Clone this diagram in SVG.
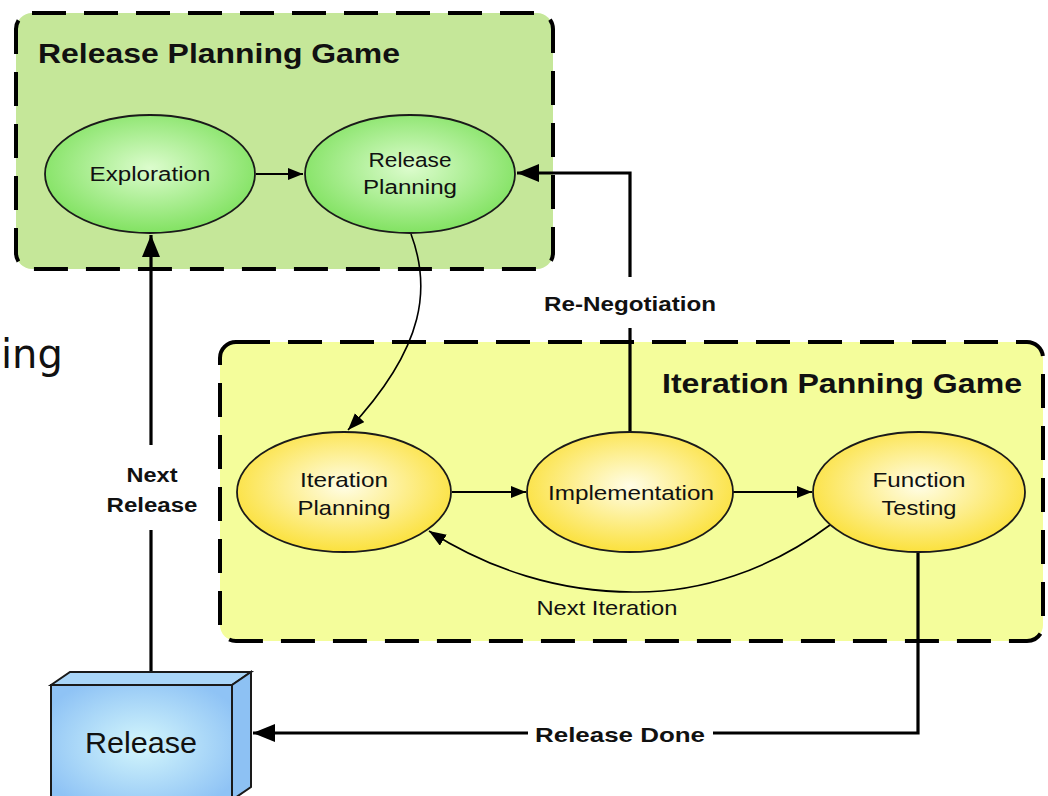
<svg xmlns="http://www.w3.org/2000/svg" width="1048" height="796" viewBox="0 0 1048 796">
<defs>
<style>
.grp{stroke:#000;stroke-width:4;stroke-dasharray:34 18}
.ell{stroke:#1a1a1a;stroke-width:1.8}
.t{font-family:"Liberation Sans",Arial,sans-serif;fill:#111;text-anchor:middle}
.b{font-weight:bold}
.thick{fill:none;stroke:#000;stroke-width:3.2}
.thin{fill:none;stroke:#000;stroke-width:2}
.curve{fill:none;stroke:#000;stroke-width:1.6}
</style>
<radialGradient id="gG" cx="50%" cy="45%" r="55%">
<stop offset="0" stop-color="#dcfccd"/>
<stop offset="1" stop-color="#82e262"/>
</radialGradient>
<radialGradient id="gY" cx="50%" cy="45%" r="55%">
<stop offset="0" stop-color="#fffde6"/>
<stop offset="1" stop-color="#fbe13d"/>
</radialGradient>
<radialGradient id="gB" cx="50%" cy="50%" r="60%">
<stop offset="0" stop-color="#d3f6fc"/>
<stop offset="1" stop-color="#8fc3f5"/>
</radialGradient>
<marker id="aBig" markerUnits="userSpaceOnUse" markerWidth="24" markerHeight="20" refX="22" refY="9" orient="auto">
<path d="M0,0 L22,9 L0,18 z" fill="#000"/>
</marker>
<marker id="aSm" markerUnits="userSpaceOnUse" markerWidth="18" markerHeight="14" refX="15" refY="6" orient="auto">
<path d="M0,0 L15,6 L0,12 z" fill="#000"/>
</marker>
<marker id="aCv" markerUnits="userSpaceOnUse" markerWidth="20" markerHeight="14" refX="17" refY="6.5" orient="auto">
<path d="M0,0 L17,6.5 L0,13 z" fill="#000"/>
</marker>
</defs>
<rect width="1048" height="796" fill="#fff"/>

<text x="1" y="368" font-family="'DejaVu Sans',Verdana,sans-serif" font-size="40" fill="#111">ing</text>

<g id="release-planning-game">
<rect class="grp" x="16" y="13" width="537" height="256" rx="16" fill="#c5e799"/>
<text class="t b" x="38" y="63" font-size="27" style="text-anchor:start" textLength="362" lengthAdjust="spacingAndGlyphs">Release Planning Game</text>
</g>
<g id="iteration-planning-game">
<rect class="grp" x="220" y="342" width="823" height="299" rx="16" fill="#f4fd9b"/>
<text class="t b" x="1022" y="393" font-size="28" style="text-anchor:end" textLength="360" lengthAdjust="spacingAndGlyphs">Iteration Panning Game</text>
</g>

<g id="connectors">
<line class="thin" x1="256" y1="174" x2="303" y2="174" marker-end="url(#aSm)"/>
<line class="thin" x1="452" y1="492" x2="526" y2="492" marker-end="url(#aSm)"/>
<line class="thin" x1="733" y1="492" x2="812" y2="492" marker-end="url(#aSm)"/>
<path class="curve" d="M411,234 C430,285 428,345 348,430" marker-end="url(#aCv)"/>
<path class="curve" d="M830,525 C770,570 700,593 633,592 C560,592 490,570 429,531" marker-end="url(#aCv)"/>
<polyline class="thick" points="630,433 630,328"/>
<polyline class="thick" points="630,277 630,173 517,173" marker-end="url(#aBig)"/>
<polyline class="thick" points="151,672 151,530"/>
<polyline class="thick" points="151,445 151,235" marker-end="url(#aBig)"/>
<polyline class="thick" points="918,553 918,733 713,733"/>
<polyline class="thick" points="528,733 253,733" marker-end="url(#aBig)"/>
<text class="t b" x="630" y="311" font-size="21" textLength="172" lengthAdjust="spacingAndGlyphs">Re-Negotiation</text>
<text class="t b" x="152" y="482" font-size="20" textLength="51" lengthAdjust="spacingAndGlyphs">Next</text>
<text class="t b" x="152" y="512" font-size="20" textLength="91" lengthAdjust="spacingAndGlyphs">Release</text>
<text class="t b" x="620" y="742" font-size="21" textLength="170" lengthAdjust="spacingAndGlyphs">Release Done</text>
<text class="t" x="607" y="615" font-size="21" textLength="141" lengthAdjust="spacingAndGlyphs">Next Iteration</text>
</g>

<g id="exploration">
<ellipse class="ell" cx="150" cy="174" rx="105" ry="59" fill="url(#gG)"/>
<text class="t" x="150" y="181" font-size="20" textLength="121" lengthAdjust="spacingAndGlyphs">Exploration</text>
</g>
<g id="release-planning">
<ellipse class="ell" cx="410" cy="174" rx="105" ry="59" fill="url(#gG)"/>
<text class="t" x="410" y="167" font-size="20" textLength="83" lengthAdjust="spacingAndGlyphs">Release</text>
<text class="t" x="410" y="194" font-size="20" textLength="94" lengthAdjust="spacingAndGlyphs">Planning</text>
</g>
<g id="iteration-planning">
<ellipse class="ell" cx="344" cy="492" rx="107" ry="60" fill="url(#gY)"/>
<text class="t" x="344" y="487" font-size="21" textLength="88" lengthAdjust="spacingAndGlyphs">Iteration</text>
<text class="t" x="344" y="515" font-size="21" textLength="93" lengthAdjust="spacingAndGlyphs">Planning</text>
</g>
<g id="implementation">
<ellipse class="ell" cx="630" cy="492" rx="103" ry="60" fill="url(#gY)"/>
<text class="t" x="631" y="500" font-size="21" textLength="166" lengthAdjust="spacingAndGlyphs">Implementation</text>
</g>
<g id="function-testing">
<ellipse class="ell" cx="919" cy="492" rx="106" ry="60" fill="url(#gY)"/>
<text class="t" x="919" y="487" font-size="21" textLength="93" lengthAdjust="spacingAndGlyphs">Function</text>
<text class="t" x="919" y="515" font-size="21" textLength="75" lengthAdjust="spacingAndGlyphs">Testing</text>
</g>
<g id="release">
<polygon points="51,685 70,672 251,672 232,685" fill="#a9d5f8" stroke="#1a1a1a" stroke-width="2"/>
<polygon points="232,685 251,672 251,787 232,800" fill="#8dc1f3" stroke="#1a1a1a" stroke-width="2"/>
<rect x="51" y="685" width="181" height="120" fill="url(#gB)" stroke="#1a1a1a" stroke-width="2"/>
<text class="t" x="141" y="753" font-size="30" textLength="112" lengthAdjust="spacingAndGlyphs">Release</text>
</g>
</svg>
